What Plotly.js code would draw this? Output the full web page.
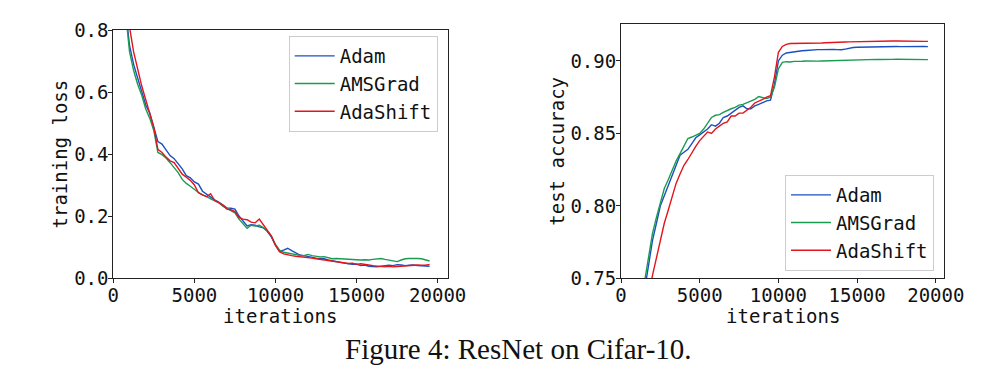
<!DOCTYPE html>
<html>
<head>
<meta charset="utf-8">
<script src="https://cdn.plot.ly/plotly-3.0.1.min.js"></script>
<style>
  html, body { margin: 0; padding: 0; background: #ffffff; }
  #fig { width: 996px; height: 369px; }
</style>
</head>
<body>
<div id="fig"></div>
<script>
// Training iterations at which both curves were logged
const iterations = [500, 750, 1000, 1250, 1500, 1750, 2000, 2250, 2500, 2750,
  3000, 3250, 3500, 3750, 4000, 4250, 4500, 4750, 5000, 5250,
  5500, 5750, 6000, 6250, 6500, 6750, 7000, 7250, 7500, 7750,
  8000, 8250, 8500, 8750, 9000, 9250, 9500, 9750, 10000, 10250,
  10500, 10750, 11000, 11250, 11500, 11750, 12000, 12250, 12500, 12750,
  13000, 13250, 13500, 13750, 14000, 14250, 14500, 14750, 15000, 15250,
  15500, 15750, 16000, 16250, 16500, 16750, 17000, 17250, 17500, 17750,
  18000, 18250, 18500, 18750, 19000, 19250, 19500];

// Training loss
const lossAdam = [1.05, 0.87, 0.75, 0.69, 0.645, 0.60, 0.558, 0.532, 0.49, 0.44,
  0.432, 0.415, 0.395, 0.385, 0.37, 0.352, 0.33, 0.323, 0.31, 0.303,
  0.28, 0.27, 0.262, 0.252, 0.245, 0.235, 0.226, 0.225, 0.222, 0.20,
  0.182, 0.168, 0.172, 0.17, 0.165, 0.162, 0.15, 0.132, 0.106, 0.086,
  0.09, 0.096, 0.088, 0.08, 0.074, 0.072, 0.069, 0.067, 0.064, 0.063,
  0.062, 0.058, 0.055, 0.053, 0.05, 0.048, 0.046, 0.044, 0.045, 0.04,
  0.042, 0.038, 0.037, 0.036, 0.038, 0.04, 0.041, 0.04, 0.043, 0.042,
  0.04, 0.041, 0.042, 0.04, 0.04, 0.039, 0.038];
const lossAMSGrad = [1.02, 0.86, 0.73, 0.67, 0.625, 0.59, 0.545, 0.515, 0.475, 0.405,
  0.398, 0.387, 0.372, 0.357, 0.34, 0.318, 0.305, 0.296, 0.285, 0.276,
  0.268, 0.263, 0.255, 0.249, 0.243, 0.232, 0.224, 0.218, 0.21, 0.19,
  0.175, 0.16, 0.17, 0.168, 0.17, 0.163, 0.152, 0.134, 0.108, 0.09,
  0.083, 0.08, 0.078, 0.076, 0.073, 0.072, 0.076, 0.072, 0.07, 0.068,
  0.069, 0.066, 0.062, 0.063, 0.062, 0.061, 0.06, 0.059, 0.06, 0.058,
  0.059, 0.058, 0.06, 0.061, 0.063, 0.06, 0.058, 0.055, 0.053, 0.058,
  0.062, 0.063, 0.064, 0.063, 0.062, 0.059, 0.055];
const lossAdaShift = [1.1, 0.95, 0.81, 0.73, 0.67, 0.62, 0.575, 0.53, 0.485, 0.415,
  0.405, 0.39, 0.378, 0.372, 0.355, 0.335, 0.325, 0.315, 0.30, 0.275,
  0.268, 0.262, 0.272, 0.25, 0.243, 0.235, 0.222, 0.22, 0.214, 0.195,
  0.19, 0.188, 0.18, 0.178, 0.19, 0.172, 0.155, 0.135, 0.105, 0.085,
  0.078, 0.074, 0.072, 0.07, 0.069, 0.068, 0.067, 0.064, 0.062, 0.06,
  0.058, 0.056, 0.055, 0.053, 0.05, 0.048, 0.047, 0.048, 0.044, 0.046,
  0.045, 0.042, 0.04, 0.038, 0.037, 0.036, 0.038, 0.036, 0.037, 0.038,
  0.04, 0.041, 0.042, 0.042, 0.041, 0.041, 0.044];

// Test accuracy
const accAdam = [0.63, 0.655, 0.68, 0.715, 0.742, 0.758, 0.776, 0.788, 0.80, 0.807,
  0.814, 0.821, 0.828, 0.835, 0.837, 0.839, 0.843, 0.847, 0.849, 0.851,
  0.853, 0.856, 0.855, 0.857, 0.861, 0.862, 0.864, 0.866, 0.868, 0.869,
  0.867, 0.867, 0.869, 0.870, 0.8715, 0.8725, 0.873, 0.884, 0.90, 0.904,
  0.9055, 0.906, 0.9065, 0.9068, 0.907, 0.9072, 0.9075, 0.9076, 0.9078, 0.9078,
  0.908, 0.908, 0.9079, 0.9078, 0.9077, 0.9082, 0.909, 0.9093, 0.9095, 0.9096,
  0.9097, 0.9097, 0.9098, 0.9098, 0.9099, 0.9099, 0.9099, 0.91, 0.91, 0.9099,
  0.91, 0.91, 0.9099, 0.9099, 0.91, 0.91, 0.9099];
const accAMSGrad = [0.64, 0.665, 0.69, 0.725, 0.748, 0.766, 0.781, 0.792, 0.803, 0.812,
  0.818, 0.825, 0.831, 0.836, 0.841, 0.8465, 0.8475, 0.8485, 0.850, 0.853,
  0.857, 0.861, 0.8625, 0.863, 0.8645, 0.866, 0.867, 0.868, 0.8695, 0.870,
  0.871, 0.872, 0.8735, 0.8755, 0.8745, 0.874, 0.875, 0.882, 0.8945, 0.899,
  0.8995, 0.8993, 0.8997, 0.8995, 0.8998, 0.90, 0.8998, 0.8997, 0.8999, 0.90,
  0.9001, 0.90, 0.9002, 0.9003, 0.9005, 0.9006, 0.9007, 0.9008, 0.9008, 0.9009,
  0.9008, 0.9009, 0.901, 0.9011, 0.901, 0.9009, 0.901, 0.9011, 0.9012, 0.9011,
  0.901, 0.9011, 0.9011, 0.901, 0.901, 0.9009, 0.9009];
const accAdaShift = [0.60, 0.625, 0.65, 0.685, 0.715, 0.738, 0.752, 0.764, 0.777, 0.788,
  0.797, 0.806, 0.8155, 0.822, 0.828, 0.832, 0.837, 0.841, 0.845, 0.848,
  0.851, 0.850, 0.853, 0.855, 0.857, 0.858, 0.862, 0.862, 0.864, 0.864,
  0.866, 0.868, 0.871, 0.872, 0.8735, 0.875, 0.876, 0.889, 0.906, 0.910,
  0.9115, 0.912, 0.912, 0.9121, 0.9122, 0.912, 0.9122, 0.9123, 0.9125, 0.9124,
  0.9126, 0.9128, 0.9127, 0.9129, 0.913, 0.9131, 0.9132, 0.9133, 0.9134, 0.9134,
  0.9135, 0.9135, 0.9136, 0.9135, 0.9136, 0.9137, 0.9137, 0.9138, 0.9138, 0.9137,
  0.9138, 0.9138, 0.9137, 0.9136, 0.9136, 0.9135, 0.9135];

const methodNames = ['Adam', 'AMSGrad', 'AdaShift'];
const xTicks = [0, 5000, 10000, 15000, 20000];
const lossTicks = [0.0, 0.2, 0.4, 0.6, 0.8];
const accTicks = [0.75, 0.80, 0.85, 0.90];

const colors = ['#1c4fc0', '#1b9a52', '#e3141c'];
const mono = 'DejaVu Sans Mono, monospace';
const fs = 19;

const lossSeries = [lossAdam, lossAMSGrad, lossAdaShift];
const accSeries = [accAdam, accAMSGrad, accAdaShift];

const traces = [];
methodNames.forEach((name, i) => {
  traces.push({
    x: iterations, y: lossSeries[i], name: name, type: 'scatter', mode: 'lines',
    line: {color: colors[i], width: 1.4}, xaxis: 'x', yaxis: 'y', legend: 'legend'
  });
});
methodNames.forEach((name, i) => {
  traces.push({
    x: iterations, y: accSeries[i], name: name, type: 'scatter', mode: 'lines',
    line: {color: colors[i], width: 1.4}, xaxis: 'x2', yaxis: 'y2', legend: 'legend2'
  });
});

function axisStyle(extra) {
  return Object.assign({
    showline: true, mirror: true, linecolor: '#222', linewidth: 1,
    ticks: 'outside', ticklen: 4, tickwidth: 1, tickcolor: '#222',
    ticklabelstandoff: -4,
    showgrid: false, zeroline: false, fixedrange: true,
    tickfont: {family: mono, size: fs, color: '#111'}
  }, extra);
}

function legendStyle(x, y) {
  return {
    x: x, y: y, xanchor: 'right', yanchor: 'top',
    bgcolor: 'rgba(255,255,255,0.9)', bordercolor: '#cccccc', borderwidth: 1,
    font: {family: mono, size: fs, color: '#111'},
    tracegroupgap: 0, itemwidth: 40
  };
}

function label(text, x, y, angle) {
  return {text: text, x: x / W, y: (H - y) / H, xref: 'paper', yref: 'paper',
    xanchor: 'center', yanchor: 'middle', textangle: angle || 0, showarrow: false,
    font: {family: mono, size: fs, color: '#111'}};
}

const H = 369, W = 996;
const layout = {
  width: W, height: H,
  margin: {l: 0, r: 0, t: 0, b: 0},
  paper_bgcolor: '#ffffff', plot_bgcolor: '#ffffff',
  xaxis: axisStyle({domain: [113.3 / W, 447.7 / W], range: [0, 20617],
    tickvals: xTicks, tickformat: 'd', anchor: 'y'}),
  yaxis: axisStyle({domain: [(H - 278) / H, (H - 30) / H], range: [0, 0.8],
    tickvals: lossTicks, tickformat: '.1f', anchor: 'x'}),
  xaxis2: axisStyle({domain: [621 / W, 944.3 / W], range: [0, 20540],
    tickvals: xTicks, tickformat: 'd', anchor: 'y2'}),
  yaxis2: axisStyle({domain: [(H - 278.3) / H, (H - 24.3) / H], range: [0.75, 0.9253],
    tickvals: accTicks, tickformat: '.2f', anchor: 'x2'}),
  legend: legendStyle(437.7 / W, (H - 36) / H),
  legend2: legendStyle(934 / W, (H - 175) / H),
  annotations: [
    label('iterations', 280, 315.5),
    label('iterations', 782.7, 315.5),
    label('training loss', 59.5, 154, -90),
    label('test accuracy', 557, 151.7, -90),
    {text: 'Figure 4: ResNet on Cifar-10.', x: 518 / W, y: (H - 349) / H,
      xref: 'paper', yref: 'paper', xanchor: 'center', yanchor: 'middle', showarrow: false,
      font: {family: 'Liberation Serif, Times New Roman, serif', size: 29, color: '#111'}}
  ]
};

Plotly.newPlot('fig', traces, layout, {staticPlot: true, displayModeBar: false});
</script>
</body>
</html>
